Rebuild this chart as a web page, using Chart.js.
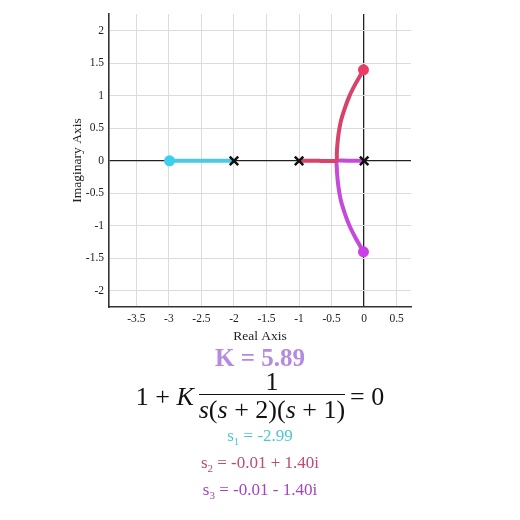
<!DOCTYPE html>
<html>
<head>
<meta charset="utf-8">
<script src="https://cdn.jsdelivr.net/npm/chart.js@4"></script>
<style>
  body { margin: 0; background: #fff; font-family: 'Liberation Serif', serif; }
  #wrap { position: relative; width: 520px; height: 520px; }
  #chart { position: absolute; left: 0; top: 0; }
  .txt { position: absolute; left: 0; width: 520px; text-align: center; line-height: 1; }
  #kval { top: 345px; font-size: 25px; font-weight: bold; color: #b48be0; }
  #eq { top: 370px; font-size: 26px; color: #111; display: flex; justify-content: center; align-items: center; }
  #eq i { font-style: italic; }
  .frac { display: inline-flex; flex-direction: column; align-items: center; margin: 0 5px; }
  .frac .num { line-height: 0.9; padding-bottom: 1px; }
  .frac .den { border-top: 1.6px solid #111; padding-top: 2px; line-height: 1; }
  .root { font-size: 17px; }
  .root sub { font-size: 11px; }
  #s1 { top: 427px; color: #4cc6d4; }
  #s2 { top: 454px; color: #c24a72; }
  #s3 { top: 481px; color: #a444bc; }
</style>
</head>
<body>
<div id="wrap">
  <canvas id="chart" width="520" height="345"></canvas>
  <div class="txt" id="kval">K = 5.89</div>
  <div class="txt" id="eq"><span>1 + <i>K</i></span><span class="frac"><span class="num">1</span><span class="den"><i>s</i>(<i>s</i> + 2)(<i>s</i> + 1)</span></span><span>= 0</span></div>
  <div class="txt root" id="s1">s<sub>1</sub> = -2.99</div>
  <div class="txt root" id="s2">s<sub>2</sub> = -0.01 + 1.40i</div>
  <div class="txt root" id="s3">s<sub>3</sub> = -0.01 - 1.40i</div>
</div>
<script>
const xTicks = [-3.5, -3, -2.5, -2, -1.5, -1, -0.5, 0, 0.5];
const yTicks = [-2, -1.5, -1, -0.5, 0, 0.5, 1, 1.5, 2];

// open-loop poles
const poles = [{x: 0, y: 0}, {x: -1, y: 0}, {x: -2, y: 0}];

// branch 1 (real axis, from pole -2 leftwards)
const branch1X = [-2, -2.5, -2.99];
const branch1Y = [0, 0, 0];

// branch 2 (from pole -1, breakaway, then upper half)
const branch2X = [-1, -0.7, -0.423, -0.42, -0.415, -0.395, -0.36, -0.30, -0.225, -0.125, -0.01];
const branch2Y = [0, 0, 0, 0.1, 0.2, 0.4, 0.6, 0.8, 1.0, 1.2, 1.40];

// branch 3 (from pole 0, breakaway, then lower half)
const branch3X = [0, -0.2, -0.423, -0.42, -0.415, -0.395, -0.36, -0.30, -0.225, -0.125, -0.01];
const branch3Y = [0, 0, 0, -0.1, -0.2, -0.4, -0.6, -0.8, -1.0, -1.2, -1.40];

// closed-loop roots at K = 5.89
const rootsX = [-2.99, -0.01, -0.01];
const rootsY = [0, 1.40, -1.40];
const rootColors = ['#3ccfee', '#ec3c64', '#cc3ee8'];

const toPts = (xs, ys) => xs.map((x, i) => ({x: x, y: ys[i]}));

const ctx = document.getElementById('chart').getContext('2d');
const serif = "'Liberation Serif', 'DejaVu Serif', serif";

const gridColor = (c) => c.tick && c.tick.value === 0 ? '#222' : '#dcdcdc';
const gridWidth = (c) => c.tick && c.tick.value === 0 ? 1.3 : 1;

new Chart(ctx, {
    type: 'scatter',
    data: {
        datasets: [
            {
                data: poles,
                pointStyle: 'crossRot',
                pointRadius: 6,
                borderColor: '#111',
                borderWidth: 2.5,
                showLine: false,
                order: 0
            },
            {
                data: toPts(rootsX, rootsY),
                pointRadius: 5.5,
                backgroundColor: rootColors,
                borderColor: rootColors,
                borderWidth: 0,
                showLine: false,
                order: 1
            },
            {
                data: toPts(branch1X, branch1Y),
                showLine: true,
                borderColor: '#4cc8e2',
                borderWidth: 4,
                pointRadius: 0,
                order: 2
            },
            {
                data: toPts(branch2X, branch2Y),
                showLine: true,
                borderColor: '#d8436a',
                borderWidth: 4,
                pointRadius: 0,
                tension: 0.12,
                order: 3
            },
            {
                data: toPts(branch3X, branch3Y),
                showLine: true,
                borderColor: '#c64ad8',
                borderWidth: 4,
                pointRadius: 0,
                tension: 0.12,
                order: 4
            }
        ]
    },
    options: {
        responsive: false,
        animation: false,
        layout: { padding: { left: 0, top: 14, right: 109, bottom: 0 } },
        plugins: { legend: { display: false }, tooltip: { enabled: false } },
        scales: {
            x: {
                type: 'linear',
                min: -3.92,
                max: 0.72,
                afterBuildTicks: (scale) => { scale.ticks = xTicks.map(v => ({value: v})); },
                afterFit: (scale) => { scale.height = 38; },
                grid: { color: gridColor, lineWidth: gridWidth, drawTicks: false },
                border: { color: '#333', width: 1.6 },
                ticks: { color: '#222', padding: 5, font: { family: serif, size: 11.5 }, callback: (v) => String(v) },
                title: { display: true, text: 'Real Axis', color: '#222', padding: { top: 5, bottom: 0 }, font: { family: serif, size: 13.5 } }
            },
            y: {
                type: 'linear',
                min: -2.25,
                max: 2.26,
                afterBuildTicks: (scale) => { scale.ticks = yTicks.map(v => ({value: v})); },
                afterFit: (scale) => { scale.width = 109; },
                grid: { color: gridColor, lineWidth: gridWidth, drawTicks: false },
                border: { color: '#333', width: 1.6 },
                ticks: { color: '#222', padding: 5, font: { family: serif, size: 11.5 }, callback: (v) => String(v) },
                title: { display: true, text: 'Imaginary Axis', color: '#222', padding: { top: 69, bottom: 0 }, font: { family: serif, size: 13.5 } }
            }
        }
    }
});
</script>
</body>
</html>
